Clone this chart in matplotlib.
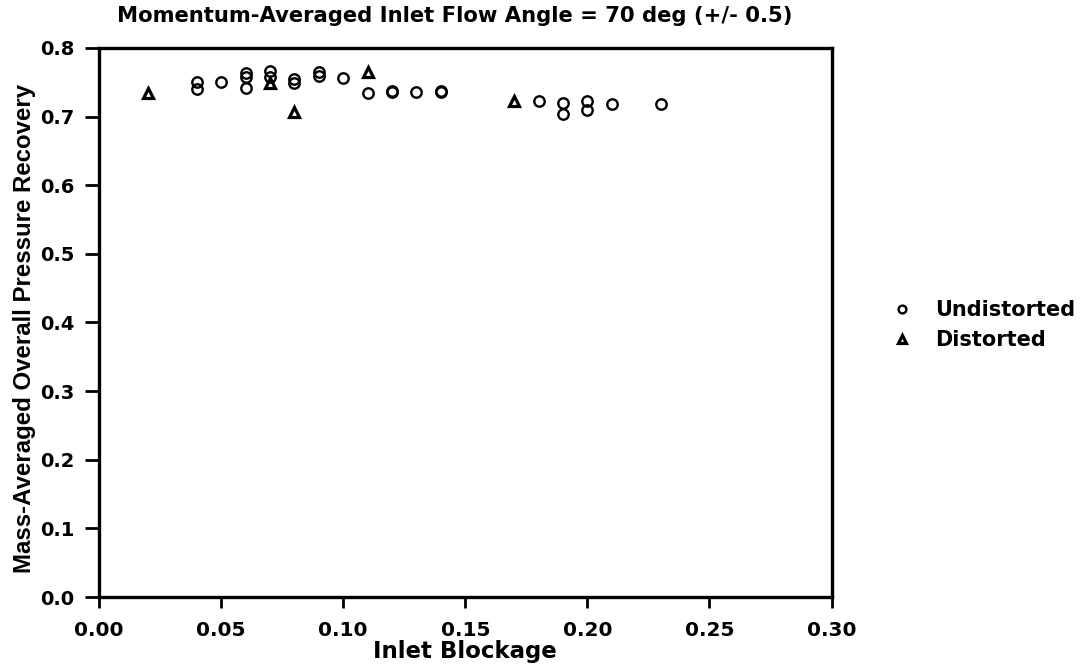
import matplotlib
matplotlib.use("Agg")
import matplotlib.pyplot as plt

#### data ####
undist_x = [0.04, 0.04, 0.05, 0.06, 0.06, 0.06, 0.07, 0.07, 0.08, 0.08,
            0.09, 0.09, 0.10, 0.11, 0.12, 0.12, 0.13, 0.14, 0.14,
            0.18, 0.19, 0.19, 0.20, 0.20, 0.21, 0.23]
undist_y = [0.750, 0.740, 0.750, 0.764, 0.757, 0.741, 0.766, 0.757, 0.755, 0.749,
            0.765, 0.759, 0.756, 0.734, 0.737, 0.736, 0.736, 0.737, 0.736,
            0.723, 0.720, 0.704, 0.722, 0.710, 0.719, 0.718]

dist_x = [0.02, 0.07, 0.08, 0.11, 0.17]
dist_y = [0.735, 0.749, 0.707, 0.765, 0.722]

xticks = [0.00, 0.05, 0.10, 0.15, 0.20, 0.25, 0.30]
yticks = [0.0, 0.1, 0.2, 0.3, 0.4, 0.5, 0.6, 0.7, 0.8]

plt.rcParams['font.family'] = ['DejaVu Sans']
plt.rcParams['font.weight'] = 'bold'

fig = plt.figure(figsize=(10.82, 6.66), dpi=100)
ax = fig.add_axes([0.0915, 0.1036, 0.677, 0.8244])

ax.plot(undist_x, undist_y, linestyle='none', marker='o', markersize=7.5,
        markerfacecolor='none', markeredgecolor='black', markeredgewidth=1.7,
        label='Undistorted')
ax.plot(dist_x, dist_y, linestyle='none', marker='^', markersize=7,
        markerfacecolor='none', markeredgecolor='black', markeredgewidth=2.3,
        label='Distorted')

ax.set_xlim(0, 0.30)
ax.set_ylim(0, 0.8)
ax.set_xticks(xticks)
ax.set_yticks(yticks)
ax.set_xticklabels(['%.2f' % v for v in xticks])
ax.set_yticklabels(['%.1f' % v for v in yticks])
ax.tick_params(axis='x', direction='out', length=8, width=2, labelsize=14.5, pad=9)
ax.tick_params(axis='y', direction='out', length=10, width=2, labelsize=14, pad=7.5)
for s in ax.spines.values():
    s.set_linewidth(2.4)

ax.set_xlabel('Inlet Blockage', fontsize=16.5, fontweight='bold', labelpad=0)
ax.set_ylabel('Mass-Averaged Overall Pressure Recovery', fontsize=17.3,
              fontweight='bold', family=['Liberation Sans Narrow', 'Liberation Sans'])
ax.yaxis.set_label_coords(-0.086, 0.49)
fig.text(0.42, 0.976, 'Momentum-Averaged Inlet Flow Angle = 70 deg (+/- 0.5)',
         ha='center', va='center', fontsize=15.2, fontweight='bold')

fig.legend(loc='center left', bbox_to_anchor=(0.826, 0.512), frameon=False,
           fontsize=15, handlelength=0.8, handletextpad=1.2, labelspacing=0.5,
           markerscale=0.75, borderaxespad=0, borderpad=0)

plt.savefig('out.png', dpi=100)
